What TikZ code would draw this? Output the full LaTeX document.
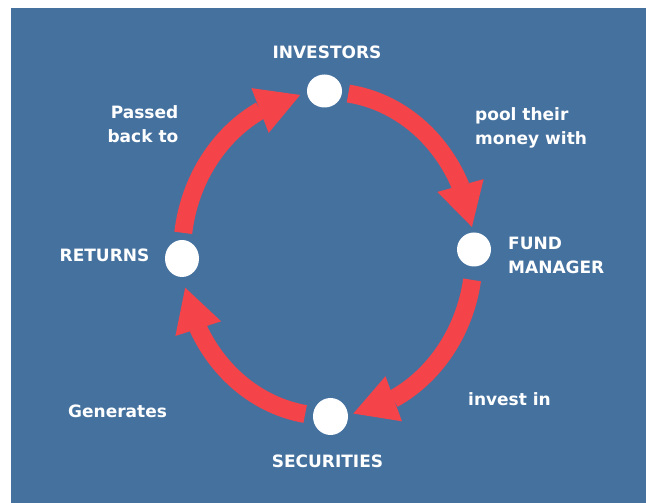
\documentclass[tikz,border=0pt]{standalone}
\usepackage{fontspec}
\setmainfont{DejaVu Sans}
\usetikzlibrary{arrows.meta,bending,shapes.geometric,calc}
\definecolor{bgblue}{RGB}{69,113,159}
\definecolor{arrowred}{RGB}{244,67,73}
\tikzset{
  dot/.style={ellipse, fill=white, draw=none, inner sep=0pt},
  lbl/.style={text=white, font=\fontsize{17}{24.5}\selectfont\bfseries, inner sep=0pt},
  flow/.style={draw=arrowred, line width=18pt, line cap=butt,
    -{Triangle[width=48pt,length=43pt,line width=0pt]}}
}
\begin{document}
\begin{tikzpicture}[x=1pt,y=1pt]
\useasboundingbox (0,0) rectangle (646,503);
\fill[white] (0,0) rectangle (646,503);
\fill[bgblue] (11,0) rectangle (646,495);
% circles
\node[dot, minimum width=35pt, minimum height=33pt] (inv) at (324.5,412) {};
\node[dot, minimum width=34pt, minimum height=34pt] (fund) at (474,253.5) {};
\node[dot, minimum width=35pt, minimum height=37pt] (sec) at (330.5,86.5) {};
\node[dot, minimum width=34pt, minimum height=37pt] (ret) at (182,244.5) {};
% labels
\node[lbl, anchor=base] (tinv) at (327,444) {INVESTORS};
\node[lbl, anchor=base west, align=left] (tfund) at (508,229) {FUND\\MANAGER};
\node[lbl, anchor=base] (tsec) at (327.5,35) {SECURITIES};
\node[lbl, anchor=base west] (tret) at (59.5,241) {RETURNS};
\node[lbl, anchor=base west, align=left] (tpool) at (475,358) {pool their\\money with};
\node[lbl, anchor=base east, align=right] (tpass) at (178.5,360) {Passed\\back to};
\node[lbl, anchor=base west] (tinvest) at (468,97) {invest in};
\node[lbl, anchor=base west] (tgen) at (68,85) {Generates};
% arrows along the cycle
\coordinate (c) at (328,249);
\coordinate (s1) at ($(c)+(82:146pt and 162pt)$);
\coordinate (s2) at ($(c)+(-9.2:146pt and 162pt)$);
\coordinate (s3) at ($(c)+(-99:146pt and 162pt)$);
\coordinate (s4) at ($(c)+(172.5:146pt and 162pt)$);
\draw[flow] (s1) arc[start angle=82, end angle=9.6, x radius=146pt, y radius=162pt];
\draw[flow] (s2) arc[start angle=-9.2, end angle=-80, x radius=146pt, y radius=162pt];
\draw[flow] (s3) arc[start angle=-99, end angle=-168, x radius=146pt, y radius=162pt];
\draw[flow] (s4) arc[start angle=172.5, end angle=101, x radius=146pt, y radius=162pt];
\end{tikzpicture}
\end{document}
